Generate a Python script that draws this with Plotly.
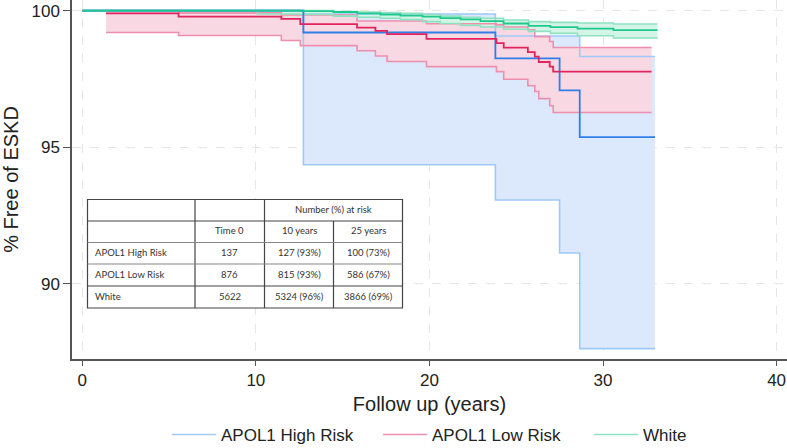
import plotly.graph_objects as go

# ---------------- data ----------------
# APOL1 High Risk (Kaplan-Meier step curve + 95% CI)
hi_t = [0, 12.74, 23.8, 27.5, 28.66, 33.0]
hi_est = [100, 99.20, 98.25, 97.08, 95.37, 95.37]
hi_up = [100, 99.88, 99.07, 99.07, 98.32, 98.32]
hi_lo = [100, 94.36, 93.07, 91.13, 87.63, 87.63]

# APOL1 Low Risk
lo_t = [1.37, 5.55, 11.47, 12.56, 15.83, 16.89, 17.56, 19.83, 23.86, 24.28,
        25.67, 26.07, 26.3, 26.93, 27.13, 32.8]
lo_est = [99.90, 99.78, 99.70, 99.51, 99.38, 99.26, 99.14, 98.97, 98.81, 98.65,
          98.48, 98.32, 98.12, 97.95, 97.77, 97.77]
lo_up = [100, 99.92, 99.84, 99.84, 99.62, 99.62, 99.62, 99.52, 99.48, 99.40,
         99.30, 99.05, 99.05, 98.87, 98.65, 98.65]
lo_lo = [99.20, 99.09, 98.91, 98.72, 98.53, 98.34, 98.14, 97.95, 97.77, 97.49,
         97.25, 97.04, 96.78, 96.52, 96.27, 96.27]

# White
wh_t = [0, 12.56, 14.47, 15.85, 17.18, 18.33, 19.6, 20.63, 21.79, 22.94,
        24.27, 25.71, 26.97, 28.53, 30.6, 33.14]
wh_est = [100, 99.98, 99.95, 99.90, 99.86, 99.82, 99.78, 99.73, 99.68, 99.62,
          99.53, 99.44, 99.40, 99.34, 99.29, 99.29]
wh_up = [100, 100, 99.97, 99.95, 99.93, 99.90, 99.86, 99.80, 99.76, 99.72,
         99.66, 99.60, 99.57, 99.55, 99.51, 99.51]
wh_lo_t = [0, 10.1, 12.56, 14.47, 15.85, 17.18, 18.33, 19.6, 20.63, 21.79,
           22.94, 24.27, 25.71, 26.97, 28.53, 30.6, 33.14]
wh_lo = [100, 99.88, 99.86, 99.80, 99.76, 99.72, 99.67, 99.60, 99.53, 99.46,
         99.40, 99.32, 99.24, 99.17, 99.08, 99.00, 99.00]

groups = ["APOL1 High Risk", "APOL1 Low Risk", "White"]

# risk table
tbl_header = ["Time 0", "10 years", "25 years"]
tbl_rows = ["APOL1 High Risk", "APOL1 Low Risk", "White"]
tbl_time0 = ["137", "876", "5622"]
tbl_10y = ["127 (93%)", "815 (93%)", "5324 (96%)"]
tbl_25y = ["100 (73%)", "586 (67%)", "3866 (69%)"]

# ---------------- style ----------------
col_line = ["#2f7fe6", "#e0245e", "#1fc98b"]
col_ci = ["#9ec9f8", "#ef8fae", "#8fe2c1"]
col_fill = ["#dce9fc", "#f8d8e3", "#d3f4e6"]

series = [
    (hi_t, hi_est, hi_t, hi_up, hi_t, hi_lo),
    (lo_t, lo_est, lo_t, lo_up, lo_t, lo_lo),
    (wh_t, wh_est, wh_t, wh_up, wh_lo_t, wh_lo),
]

fig = go.Figure()

# fills (bands)
for i, (t, est, tu, up, tl, lo) in enumerate(series):
    fig.add_trace(go.Scatter(x=tl, y=lo, mode="lines", line=dict(width=0, shape="hv"),
                             showlegend=False, hoverinfo="skip"))
    fig.add_trace(go.Scatter(x=tu, y=up, mode="lines", line=dict(width=0, shape="hv"),
                             fill="tonexty", fillcolor=col_fill[i],
                             showlegend=False, hoverinfo="skip"))

# CI lines
for i, (t, est, tu, up, tl, lo) in enumerate(series):
    fig.add_trace(go.Scatter(x=tl, y=lo, mode="lines",
                             line=dict(width=1.6, shape="hv", color=col_ci[i]),
                             showlegend=False, hoverinfo="skip"))
    fig.add_trace(go.Scatter(x=tu, y=up, mode="lines",
                             line=dict(width=1.6, shape="hv", color=col_ci[i]),
                             name=groups[i], showlegend=True))

# estimate lines
for i, (t, est, tu, up, tl, lo) in enumerate(series):
    fig.add_trace(go.Scatter(x=t, y=est, mode="lines",
                             line=dict(width=1.8, shape="hv", color=col_line[i]),
                             showlegend=False))

# ---------------- risk table (shapes + annotations) ----------------
L, R, T, B = 72, 0, 0, 89
W, H = 787 - L - R, 448 - T - B


def px(xp):
    return (xp - L) / W


def py(yp):
    return (T + H - yp) / H


cx = [87.5, 195, 264.5, 333.5, 402.5]
ry = [199.5, 221, 242.5, 264, 286, 308]
dark = "#444444"
light = "#888888"

shapes = []
shapes.append(dict(type="rect", xref="paper", yref="paper", x0=px(cx[0]), x1=px(cx[4]),
                   y0=py(ry[5]), y1=py(ry[0]), fillcolor="white",
                   line=dict(color=dark, width=1.2), layer="above"))
for xv in [cx[1], cx[2]]:
    shapes.append(dict(type="line", xref="paper", yref="paper", x0=px(xv), x1=px(xv),
                       y0=py(ry[5]), y1=py(ry[0]), line=dict(color=dark, width=1.2)))
shapes.append(dict(type="line", xref="paper", yref="paper", x0=px(cx[3]), x1=px(cx[3]),
                   y0=py(ry[5]), y1=py(ry[1]), line=dict(color=dark, width=1.2)))
for k, yv in enumerate(ry[1:5]):
    c = dark if k in (0, 3) else light
    shapes.append(dict(type="line", xref="paper", yref="paper", x0=px(cx[0]), x1=px(cx[4]),
                       y0=py(yv), y1=py(yv), line=dict(color=c, width=1.1)))

annots = []
tfont = dict(family="Lato, Liberation Sans, Arial", size=9.5, color="#333333")


def cell(text, xc, yc, anchor="center"):
    annots.append(dict(text=text, xref="paper", yref="paper", x=px(xc), y=py(yc),
                       xanchor=anchor, yanchor="middle", showarrow=False, font=tfont))


cell("Number (%) at risk", (cx[2] + cx[4]) / 2, (ry[0] + ry[1]) / 2 - 1)
for j, h in enumerate(tbl_header):
    cell(h, (cx[j + 1] + cx[j + 2]) / 2, (ry[1] + ry[2]) / 2 - 1)
for r in range(3):
    yc = (ry[r + 2] + ry[r + 3]) / 2 - 1
    cell(tbl_rows[r], cx[0] + 5, yc, "left")
    cell(tbl_time0[r], (cx[1] + cx[2]) / 2, yc)
    cell(tbl_10y[r], (cx[2] + cx[3]) / 2, yc)
    cell(tbl_25y[r], (cx[3] + cx[4]) / 2, yc)

# ---------------- layout ----------------
font_main = dict(family="Liberation Sans, Arial", size=17, color="#222222")
fig.update_layout(
    width=787, height=448,
    margin=dict(l=L, r=R, t=T, b=B, autoexpand=False),
    paper_bgcolor="white", plot_bgcolor="white",
    font=font_main,
    shapes=shapes, annotations=annots,
    showlegend=True,
    legend=dict(orientation="h", x=px(167), xanchor="left", y=py(435), yanchor="middle",
                font=dict(family="Liberation Sans, Arial", size=17, color="#222222"),
                itemwidth=44, entrywidth=152, entrywidthmode="pixels",
                traceorder="normal"),
    xaxis=dict(range=[-0.59, 40.6], tickvals=[0, 10, 20, 30, 40], automargin=False,
               showgrid=True, gridcolor="#e6e6e6", griddash="dash", gridwidth=1.2,
               zeroline=False, showline=True, linecolor="#555555", linewidth=1.5,
               ticks="outside", ticklen=5, tickcolor="#555555",
               title=dict(text="Follow up (years)", standoff=8), tickfont=font_main),
    yaxis=dict(range=[87.25, 100.39], tickvals=[90, 95, 100], automargin=False,
               showgrid=True, gridcolor="#e6e6e6", griddash="dash", gridwidth=1.2,
               zeroline=False, showline=True, linecolor="#555555", linewidth=1.5,
               ticks="outside", ticklen=7, tickcolor="#555555",
               title=dict(text="% Free of ESKD", standoff=10), tickfont=font_main),
)

fig.write_html("out.html", config={"displayModeBar": False},
               post_script="document.body.style.margin='0';")
